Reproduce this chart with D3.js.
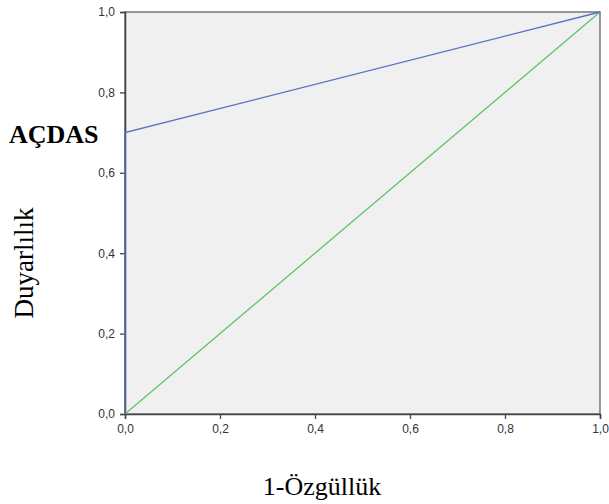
<!DOCTYPE html>
<html>
<head>
<meta charset="utf-8">
<script src="https://cdn.jsdelivr.net/npm/d3@7"></script>
<style>
  body { margin: 0; background: #fff; }
  .tick text { font-family: "Liberation Sans", Arial, sans-serif; font-size: 12px; fill: #333; }
</style>
</head>
<body>
<svg id="roc"></svg>
<script>
// ROC curve points (1-specificity, sensitivity)
const rocX = [0, 0, 1];
const rocY = [0, 0.7, 1];
const refX = [0, 1];
const refY = [0, 1];
const tickValues = [0, 0.2, 0.4, 0.6, 0.8, 1.0];

const width = 609, height = 504;
const margin = {left: 125, right: 9, top: 12, bottom: 90};

const svg = d3.select('#roc')
    .attr("width", width)
    .attr("height", height);

const x = d3.scaleLinear().domain([0, 1]).range([margin.left, width - margin.right]);
const y = d3.scaleLinear().domain([0, 1]).range([height - margin.bottom, margin.top]);

const fmt = d => d3.format(".1f")(d).replace(".", ",");

// plot background
svg.append("rect")
    .attr("x", x(0)).attr("y", y(1))
    .attr("width", x(1) - x(0)).attr("height", y(0) - y(1))
    .attr("fill", "#f0f0f0")
    .attr("stroke", "#777")
    .attr("stroke-width", 1.5);

// axes
const xAxis = svg.append("g")
    .attr("transform", "translate(0," + y(0) + ")")
    .call(d3.axisBottom(x).tickValues(tickValues).tickFormat(fmt).tickSize(5).tickPadding(5));
const yAxis = svg.append("g")
    .attr("transform", "translate(" + x(0) + ",0)")
    .call(d3.axisLeft(y).tickValues(tickValues).tickFormat(fmt).tickSize(5).tickPadding(5));

[xAxis, yAxis].forEach(g => {
    g.select(".domain").attr("stroke", "#444").attr("stroke-width", 1.5);
    g.selectAll(".tick line").attr("stroke", "#444").attr("stroke-width", 1.3);
});

const line = d3.line().x(d => x(d[0])).y(d => y(d[1]));

svg.append("path")
    .datum(d3.zip(refX, refY))
    .attr("d", line)
    .attr("fill", "none")
    .attr("stroke", "#5fc46a")
    .attr("stroke-width", 1.3);

svg.append("path")
    .datum(d3.zip(rocX, rocY))
    .attr("d", line)
    .attr("fill", "none")
    .attr("stroke", "#5b6fc2")
    .attr("stroke-width", 1.3);

// labels
const serif = "'Liberation Serif', 'Times New Roman', serif";

svg.append("text")
    .attr("x", 9).attr("y", 143)
    .attr("font-family", serif)
    .attr("font-size", 26)
    .attr("font-weight", "bold")
    .text("AÇDAS");

svg.append("text")
    .attr("transform", "translate(33,263) rotate(-90)")
    .attr("text-anchor", "middle")
    .attr("font-family", serif)
    .attr("font-size", 27)
    .text("Duyarlılık");

svg.append("text")
    .attr("x", 322).attr("y", 495)
    .attr("text-anchor", "middle")
    .attr("font-family", serif)
    .attr("font-size", 26)
    .text("1-Özgüllük");
</script>
</body>
</html>
